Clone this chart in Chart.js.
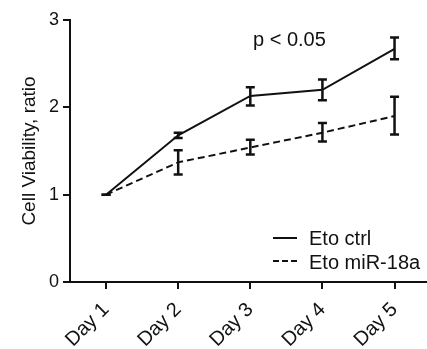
<!DOCTYPE html>
<html>
<head>
<meta charset="utf-8">
<script src="https://cdn.jsdelivr.net/npm/chart.js@4"></script>
<style>
  body { margin: 0; background: #fff; }
</style>
</head>
<body>
<canvas id="myChart" width="427" height="349"></canvas>
<script>
const days = ['Day 1', 'Day 2', 'Day 3', 'Day 4', 'Day 5']
const ctrlValues = [1.0, 1.68, 2.13, 2.20, 2.67]
const ctrlHigh = [1.0, 1.71, 2.23, 2.32, 2.80]
const ctrlLow = [1.0, 1.65, 2.02, 2.08, 2.55]
const mirValues = [1.0, 1.37, 1.54, 1.71, 1.90]
const mirHigh = [1.0, 1.51, 1.63, 1.82, 2.12]
const mirLow = [1.0, 1.23, 1.46, 1.61, 1.69]
const yTicks = [0, 1, 2, 3]
const seriesNames = ['Eto ctrl', 'Eto miR-18a']
const pText = 'p < 0.05'

const FONT = "'Liberation Sans', Arial, sans-serif"

// error bars drawn through the y scale
const errorBars = {
  id: 'errorBars',
  afterDatasetsDraw(chart) {
    const ctx = chart.ctx
    const ys = chart.scales.y
    const bounds = [[ctrlLow, ctrlHigh], [mirLow, mirHigh]]
    chart.data.datasets.forEach((ds, i) => {
      const meta = chart.getDatasetMeta(i)
      meta.data.forEach((pt, j) => {
        const top = ys.getPixelForValue(bounds[i][1][j])
        const bot = ys.getPixelForValue(bounds[i][0][j])
        ctx.save()
        ctx.strokeStyle = '#111'
        ctx.lineWidth = 2.5
        ctx.setLineDash([])
        ctx.beginPath()
        ctx.moveTo(pt.x, top); ctx.lineTo(pt.x, bot)
        ctx.moveTo(pt.x - 4.5, top); ctx.lineTo(pt.x + 4.5, top)
        ctx.moveTo(pt.x - 4.5, bot); ctx.lineTo(pt.x + 4.5, bot)
        ctx.stroke()
        ctx.restore()
      })
    })
  }
}

// legend + p value label
const notes = {
  id: 'notes',
  afterDraw(chart) {
    const ctx = chart.ctx
    ctx.save()
    ctx.fillStyle = '#111'
    ctx.font = '20px ' + FONT
    ctx.textBaseline = 'alphabetic'
    ctx.fillText(pText, 253, 46)
    ctx.strokeStyle = '#111'
    ctx.lineWidth = 2
    ctx.beginPath(); ctx.moveTo(273, 238); ctx.lineTo(297, 238); ctx.stroke()
    ctx.setLineDash([6, 3])
    ctx.beginPath(); ctx.moveTo(273, 261); ctx.lineTo(297, 261); ctx.stroke()
    ctx.setLineDash([])
    ctx.fillText(seriesNames[0], 309, 245)
    ctx.fillText(seriesNames[1], 309, 269)
    ctx.restore()
  }
}

const ctx = document.getElementById('myChart')
new Chart(ctx, {
  type: 'line',
  data: {
    datasets: [{
      label: seriesNames[0],
      data: ctrlValues.map((v, i) => ({ x: i + 1, y: v })),
      borderColor: '#111',
      borderWidth: 2,
      pointRadius: 0,
      tension: 0
    }, {
      label: seriesNames[1],
      data: mirValues.map((v, i) => ({ x: i + 1, y: v })),
      borderColor: '#111',
      borderWidth: 2,
      borderDash: [7, 4],
      pointRadius: 0,
      tension: 0
    }]
  },
  options: {
    responsive: false,
    animation: false,
    layout: { padding: { top: 20, right: 0, left: 0, bottom: 0 } },
    plugins: {
      legend: { display: false },
      tooltip: { enabled: false }
    },
    scales: {
      x: {
        type: 'linear',
        min: 0.5,
        max: 5.45,
        afterBuildTicks: (s) => { s.ticks = days.map((d, i) => ({ value: i + 1 })) },
        afterFit: (s) => { s.height = 67 },
        border: { display: true, color: '#111', width: 2 },
        grid: { drawOnChartArea: false, drawTicks: true, tickLength: 7, color: '#111', lineWidth: 2 },
        ticks: {
          autoSkip: false,
          maxRotation: 45,
          minRotation: 45,
          padding: 9,
          color: '#111',
          font: { family: FONT, size: 20 },
          callback: (v) => days[v - 1]
        }
      },
      y: {
        min: 0,
        max: 3,
        afterBuildTicks: (s) => { s.ticks = yTicks.map(v => ({ value: v })) },
        afterFit: (s) => { s.width = 70 },
        border: { display: true, color: '#111', width: 2 },
        grid: { drawOnChartArea: false, drawTicks: true, tickLength: 7, color: '#111', lineWidth: 2 },
        title: {
          display: true,
          text: 'Cell Viability, ratio',
          color: '#111',
          font: { family: FONT, size: 19 },
          padding: { top: 18, bottom: 0 }
        },
        ticks: {
          padding: 4,
          color: '#111',
          font: { family: FONT, size: 18 }
        }
      }
    }
  },
  plugins: [errorBars, notes]
})
</script>
</body>
</html>
